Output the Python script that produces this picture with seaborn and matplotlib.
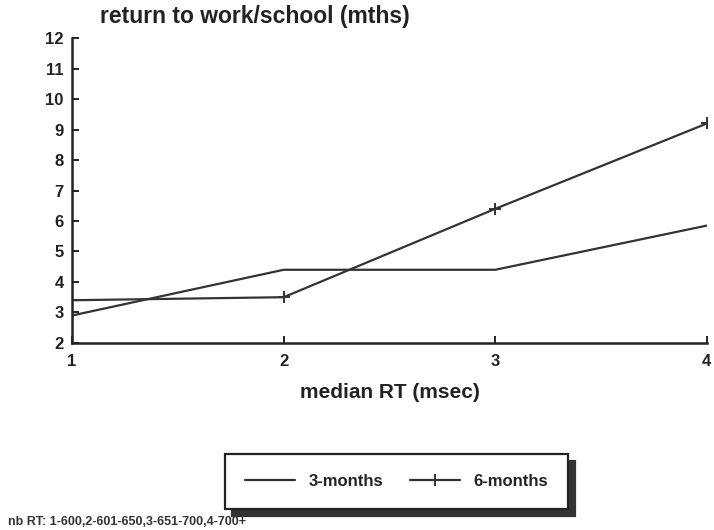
import matplotlib
matplotlib.use("Agg")
import matplotlib.pyplot as plt
import seaborn as sns
import pandas as pd

rt_groups = [1, 2, 3, 4]
three_months = [2.9, 4.4, 4.4, 5.85]
six_months = [3.4, 3.5, 6.4, 9.2]
y_ticks = list(range(2, 13))
title_text = "return to work/school (mths)"
x_label = "median RT (msec)"
footnote = "nb RT: 1-600,2-601-650,3-651-700,4-700+"

sns.set_style("ticks")
plt.rcParams["font.family"] = ["Liberation Sans", "DejaVu Sans"]
plt.rcParams["font.weight"] = "bold"

df = pd.DataFrame({
    "rt": rt_groups * 2,
    "value": three_months + six_months,
    "series": ["3-months"] * 4 + ["6-months"] * 4,
})

fig = plt.figure(figsize=(7.14, 5.30), dpi=100)
ax = fig.add_axes([0.101, 0.353, 0.889, 0.575])

line_col = "#333333"
sns.lineplot(data=df[df.series == "3-months"], x="rt", y="value", ax=ax,
             color=line_col, lw=1.6, label="3-months")
sns.lineplot(data=df[df.series == "6-months"], x="rt", y="value", ax=ax,
             color=line_col, lw=1.6, marker="+", markersize=8, mew=1.4,
             mec=line_col, mfc=line_col, label="6-months")

ax.set_xlim(1, 4)
ax.set_ylim(2, 12)
ax.set_xticks(rt_groups)
ax.set_yticks(y_ticks)
ax.tick_params(direction="in", length=5, width=1.4, colors="#222222",
               labelsize=12, pad=6)
for lbl in ax.get_xticklabels() + ax.get_yticklabels():
    lbl.set_fontweight("bold")
ax.tick_params(axis="x", pad=8)
sns.despine(ax=ax)
for s in ["left", "bottom"]:
    ax.spines[s].set_linewidth(1.8)
    ax.spines[s].set_color("#222222")

ax.set_xlabel(x_label, fontsize=15, fontweight="bold", color="#222222", labelpad=10)
ax.set_ylabel("")
fig.text(0.140, 0.968, title_text, fontsize=16.5, fontweight="bold",
         color="#222222", ha="left", va="center")

leg = ax.legend(loc="center", bbox_to_anchor=(0.555, 0.092),
                bbox_transform=fig.transFigure, ncol=2, frameon=True,
                fancybox=False, edgecolor="#222222", fontsize=12,
                handlelength=3.0, columnspacing=1.6, borderpad=1.2,
                shadow={"ox": 5, "oy": -5, "color": "#333333", "alpha": 1})
leg.get_frame().set_linewidth(1.6)
for t in leg.get_texts():
    t.set_fontweight("bold")
    t.set_color("#222222")

fig.text(0.011, 0.016, footnote, fontsize=9, fontweight="bold",
         color="#333333", ha="left", va="center")

fig.savefig("out.png", dpi=100)
